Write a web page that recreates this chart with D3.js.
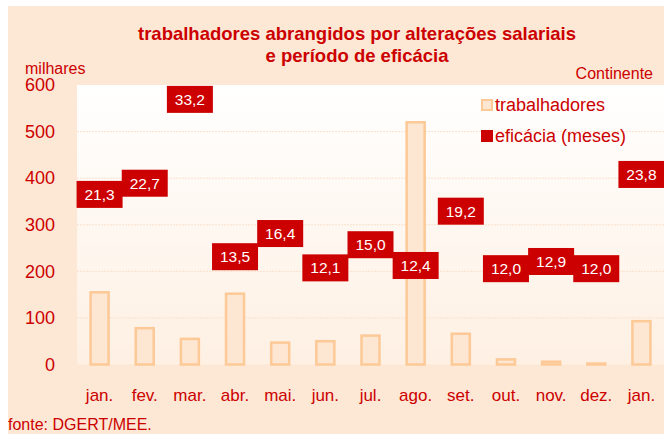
<!DOCTYPE html>
<html>
<head>
<meta charset="utf-8">
<script src="https://cdn.jsdelivr.net/npm/d3@7"></script>
<style>
  html, body { margin: 0; padding: 0; background: #fff; }
  svg { display: block; font-family: "Liberation Sans", Arial, sans-serif; }
</style>
</head>
<body>
<svg id="chart" width="664" height="434"></svg>
<script>
const meses = ["jan.", "fev.", "mar.", "abr.", "mai.", "jun.", "jul.", "ago.", "set.", "out.", "nov.", "dez.", "jan."];
const trabalhadores = [155, 78, 55, 152, 47, 50, 62, 520, 66, 11, 6, 2, 93];
const eficacia = [21.3, 22.7, 33.2, 13.5, 16.4, 12.1, 15.0, 12.4, 19.2, 12.0, 12.9, 12.0, 23.8];
const yTicks = [0, 100, 200, 300, 400, 500, 600];

const red = "#cc0000";
const svg = d3.select("#chart");
const width = 664, height = 434;
const margin = { top: 85, right: 0, bottom: 69.5, left: 77 };

// fundo
svg.append("rect")
  .attr("x", 8).attr("y", 6)
  .attr("width", width - 8).attr("height", height - 6)
  .attr("fill", "#fde8d6");

const defs = svg.append("defs");
const grad = defs.append("linearGradient")
  .attr("id", "plotBg").attr("x1", 0).attr("y1", 0).attr("x2", 0).attr("y2", 1);
grad.append("stop").attr("offset", "0%").attr("stop-color", "#ffffff");
grad.append("stop").attr("offset", "100%").attr("stop-color", "#fef0e3");

const x = d3.scaleBand()
  .domain(d3.range(meses.length))
  .range([margin.left, width - margin.right])
  .paddingInner(0)
  .paddingOuter(0);

const y = d3.scaleLinear()
  .domain([0, 600])
  .range([height - margin.bottom, margin.top]);

const y2 = d3.scaleLinear()
  .domain([0, 35])
  .range([height - margin.bottom, margin.top]);

svg.append("rect")
  .attr("x", margin.left).attr("y", margin.top)
  .attr("width", width - margin.left - margin.right)
  .attr("height", y(0) - margin.top)
  .attr("fill", "url(#plotBg)");

// grelha
svg.append("g")
  .selectAll("line")
  .data(yTicks.filter(d => d > 0 && d < 600))
  .join("line")
  .attr("x1", margin.left).attr("x2", width)
  .attr("y1", d => y(d)).attr("y2", d => y(d))
  .attr("stroke", "#fbe1cc")
  .attr("stroke-width", 1)
  .attr("stroke-dasharray", "2,1");

// eixo y
svg.append("g")
  .attr("transform", `translate(55,0)`)
  .call(d3.axisLeft(y).tickValues(yTicks).tickSize(0).tickPadding(0))
  .call(g => g.select(".domain").remove())
  .selectAll("text")
  .attr("fill", red)
  .style("font-size", "18px")
  .style("font-family", "Liberation Sans, Arial, sans-serif");

// barras
const barW = 19;
svg.append("g")
  .selectAll("rect")
  .data(trabalhadores)
  .join("rect")
  .attr("x", (d, i) => x(i) + x.bandwidth() / 2 - barW / 2 + 0.5)
  .attr("y", d => y(d))
  .attr("width", barW - 1)
  .attr("height", d => Math.max(0, y(0) - y(d)))
  .attr("fill", "#fde6d2")
  .attr("stroke", "#fcc997")
  .attr("stroke-width", 2.5);

// eixo x
svg.append("g")
  .attr("transform", `translate(0,${y(0)})`)
  .call(d3.axisBottom(x).tickFormat(i => meses[i]).tickSize(0).tickPadding(24))
  .call(g => g.select(".domain").remove())
  .selectAll("text")
  .attr("fill", red)
  .style("font-size", "17px")
  .style("font-family", "Liberation Sans, Arial, sans-serif");

// rótulos eficácia
const boxW = 46, boxH = 27;
const lab = svg.append("g")
  .selectAll("g")
  .data(eficacia)
  .join("g")
  .attr("transform", (d, i) => `translate(${x(i) + x.bandwidth() / 2},${y2(d)})`);

lab.append("rect")
  .attr("x", -boxW / 2).attr("y", -boxH / 2)
  .attr("width", boxW).attr("height", boxH)
  .attr("fill", red);

lab.append("text")
  .attr("text-anchor", "middle")
  .attr("dy", "0.36em")
  .attr("fill", "#fff")
  .style("font-size", "15.5px")
  .text(d => d3.format(".1f")(d).replace(".", ","));

// título
svg.append("text")
  .attr("x", 357).attr("y", 40)
  .attr("text-anchor", "middle")
  .attr("fill", red)
  .style("font-size", "18.5px").style("font-weight", "bold")
  .text("trabalhadores abrangidos por alterações salariais");
svg.append("text")
  .attr("x", 357).attr("y", 62)
  .attr("text-anchor", "middle")
  .attr("fill", red)
  .style("font-size", "18.5px").style("font-weight", "bold")
  .text("e período de eficácia");

svg.append("text")
  .attr("x", 25).attr("y", 74)
  .attr("fill", red)
  .style("font-size", "16px")
  .text("milhares");

svg.append("text")
  .attr("x", 653).attr("y", 79)
  .attr("text-anchor", "end")
  .attr("fill", red)
  .style("font-size", "16px")
  .text("Continente");

// legenda
const legend = [
  { label: "trabalhadores", fill: "#fde6d2", stroke: "#fcc997" },
  { label: "eficácia (meses)", fill: red, stroke: red }
];
const lg = svg.append("g")
  .selectAll("g")
  .data(legend)
  .join("g")
  .attr("transform", (d, i) => `translate(481,${99 + i * 31})`);
lg.append("rect")
  .attr("x", 1).attr("y", 1)
  .attr("width", 10).attr("height", 10)
  .attr("fill", d => d.fill)
  .attr("stroke", d => d.stroke)
  .attr("stroke-width", 2);
lg.append("text")
  .attr("x", 14).attr("y", 6)
  .attr("dy", "0.36em")
  .attr("fill", red)
  .style("font-size", "18px")
  .text(d => d.label);

svg.append("text")
  .attr("x", 8).attr("y", 430)
  .attr("fill", red)
  .style("font-size", "16px")
  .text("fonte: DGERT/MEE.");
</script>
</body>
</html>
